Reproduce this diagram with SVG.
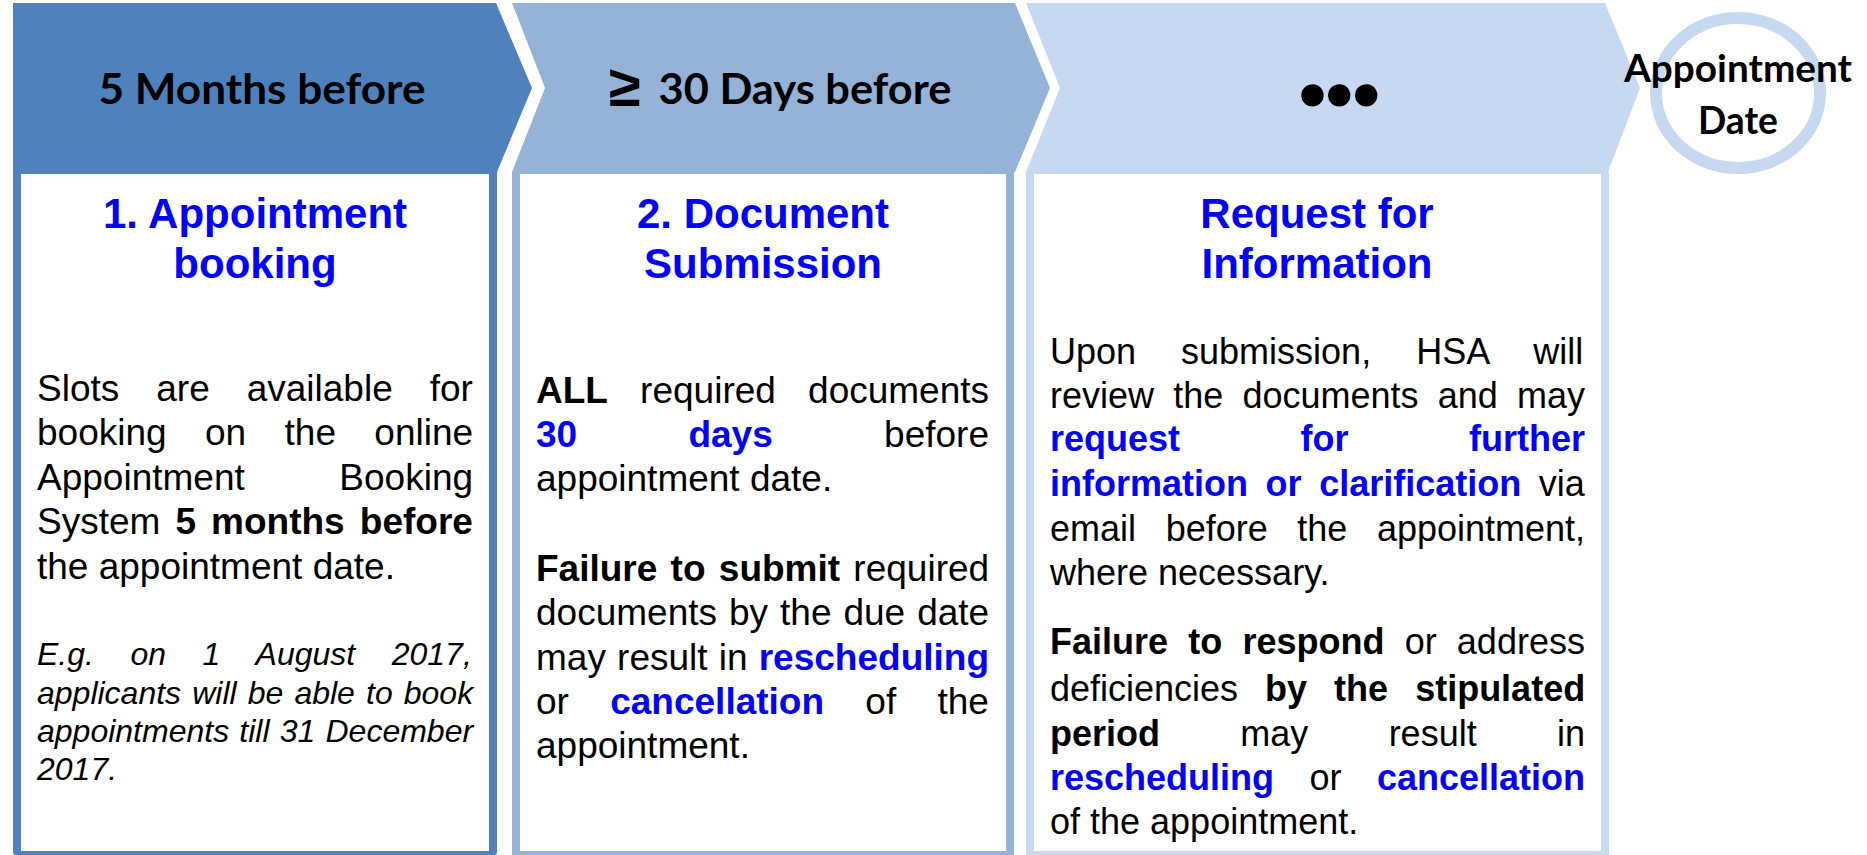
<svg xmlns="http://www.w3.org/2000/svg" width="1867" height="855" viewBox="0 0 1867 855">
  <style>
    .hdr { font-family: Lato, "Open Sans", sans-serif; font-weight: 700; font-size: 42px; fill: #000; text-anchor: middle; }
    .ge { font-family: "Liberation Sans", Arial, sans-serif; font-weight: 700; font-size: 58px; fill: #000; }
    .ttl { font-family: "Liberation Sans", Arial, sans-serif; font-weight: 700; font-size: 42px; fill: #0000FF; text-anchor: middle; }
    .body { font-family: "Liberation Sans", Arial, sans-serif; font-size: 37px; fill: #000; }
    .body3 { font-family: "Liberation Sans", Arial, sans-serif; font-size: 36px; fill: #000; }
    .it { font-family: "Liberation Sans", Arial, sans-serif; font-size: 32px; font-style: italic; fill: #000; }
    .b { font-weight: 700; }
    .bb { font-weight: 700; fill: #0000FF; }
    .c1 { fill: #4F81BD; }
    .c2 { fill: #95B3D7; }
    .c3 { fill: #C6D9F1; }
    .panel { fill: #FFFFFF; }
  </style>

  <rect width="1867" height="855" fill="#FFFFFF"/>

  <!-- Step 1: 5 months before -->
  <g id="step-booking">
    <rect class="c1" x="13" y="3" width="484" height="852" rx="3"/>
    <polygon class="c1" points="13,3 496,3 532,88 497,172 13,172"/>
    <rect class="panel" x="21" y="174" width="468" height="677"/>
    <text class="hdr" x="262" y="104" textLength="327" lengthAdjust="spacingAndGlyphs">5 Months before</text>
    <text class="ttl" x="255" y="228">1. Appointment</text>
    <text class="ttl" x="255" y="278">booking</text>
    <text class="body" x="37" y="401" style="word-spacing:26.7px">Slots are available for</text>
    <text class="body" x="37" y="445" style="word-spacing:28.1px">booking on the online</text>
    <text class="body" x="37" y="490" style="word-spacing:84.3px">Appointment Booking</text>
    <text class="body" x="37" y="534" style="word-spacing:4.8px">System <tspan class="b">5 months before</tspan></text>
    <text class="body" x="37" y="579">the appointment date.</text>
    <text class="it" x="37" y="665" style="word-spacing:27.6px">E.g. on 1 August 2017,</text>
    <text class="it" x="37" y="704" style="word-spacing:2.2px">applicants will be able to book</text>
    <text class="it" x="37" y="742" style="word-spacing:1.3px">appointments till 31 December</text>
    <text class="it" x="37" y="780">2017.</text>
  </g>

  <!-- Step 2: at least 30 days before -->
  <g id="step-documents">
    <rect class="c2" x="512" y="172" width="502" height="683"/>
    <polygon class="c2" points="512,3 1015,3 1050,88 1015,172 512,172 545,88"/>
    <rect class="panel" x="520" y="174" width="486" height="677"/>
    <text class="ge" x="609" y="106">≥</text>
    <text class="hdr" x="805" y="104" textLength="293" lengthAdjust="spacingAndGlyphs">30 Days before</text>
    <text class="ttl" x="763" y="228">2. Document</text>
    <text class="ttl" x="763" y="278">Submission</text>
    <text class="body" x="536" y="403" style="word-spacing:21.9px"><tspan class="b">ALL</tspan> required documents</text>
    <text class="body" x="536" y="447" style="word-spacing:101px"><tspan class="bb">30 days</tspan> before</text>
    <text class="body" x="536" y="491">appointment date.</text>
    <text class="body" x="536" y="581" style="word-spacing:3px"><tspan class="b">Failure to submit</tspan> required</text>
    <text class="body" x="536" y="625" style="word-spacing:1.7px">documents by the due date</text>
    <text class="body" x="536" y="670" style="word-spacing:0.9px">may result in <tspan class="bb">rescheduling</tspan></text>
    <text class="body" x="536" y="714" style="word-spacing:31px">or <tspan class="bb">cancellation</tspan> of the</text>
    <text class="body" x="536" y="758">appointment.</text>
  </g>

  <!-- Step 3: request for information -->
  <g id="step-request">
    <rect class="c3" x="1026" y="172" width="583" height="683"/>
    <polygon class="c3" points="1026,3 1605,3 1640,88 1608,172 1026,172 1060,88"/>
    <rect class="panel" x="1034" y="174" width="567" height="677"/>
    <text x="1337" y="110" font-family="Liberation Sans, DejaVu Sans, sans-serif" font-size="52" letter-spacing="-4.5" text-anchor="middle">●●●</text>
    <text class="ttl" x="1317" y="228">Request for</text>
    <text class="ttl" x="1317" y="278">Information</text>
    <text class="body3" x="1050" y="364" style="word-spacing:35px">Upon submission, HSA will</text>
    <text class="body3" x="1050" y="408" style="word-spacing:9.2px">review the documents and may</text>
    <text class="body3" x="1050" y="451" style="word-spacing:110.5px"><tspan class="bb">request for further</tspan></text>
    <text class="body3" x="1050" y="496" style="word-spacing:7.6px"><tspan class="bb">information or clarification</tspan> via</text>
    <text class="body3" x="1050" y="541" style="word-spacing:19.6px">email before the appointment,</text>
    <text class="body3" x="1050" y="585">where necessary.</text>
    <text class="body3" x="1050" y="654" style="word-spacing:10.2px"><tspan class="b">Failure to respond</tspan> or address</text>
    <text class="body3" x="1050" y="701" style="word-spacing:17px">deficiencies <tspan class="b">by the stipulated</tspan></text>
    <text class="body3" x="1050" y="746" style="word-spacing:70.3px"><tspan class="b">period</tspan> may result in</text>
    <text class="body3" x="1050" y="790" style="word-spacing:25.4px"><tspan class="bb">rescheduling</tspan> or <tspan class="bb">cancellation</tspan></text>
    <text class="body3" x="1050" y="834">of the appointment.</text>
  </g>

  <!-- Milestone: appointment date -->
  <g id="appointment-date">
    <ellipse cx="1738" cy="93" rx="82" ry="75" fill="none" stroke="#C6D9F1" stroke-width="12"/>
    <text class="hdr" x="1738" y="82" style="font-size:38px" textLength="228" lengthAdjust="spacingAndGlyphs">Appointment</text>
    <text class="hdr" x="1738" y="134" style="font-size:38px" textLength="80" lengthAdjust="spacingAndGlyphs">Date</text>
  </g>
</svg>
